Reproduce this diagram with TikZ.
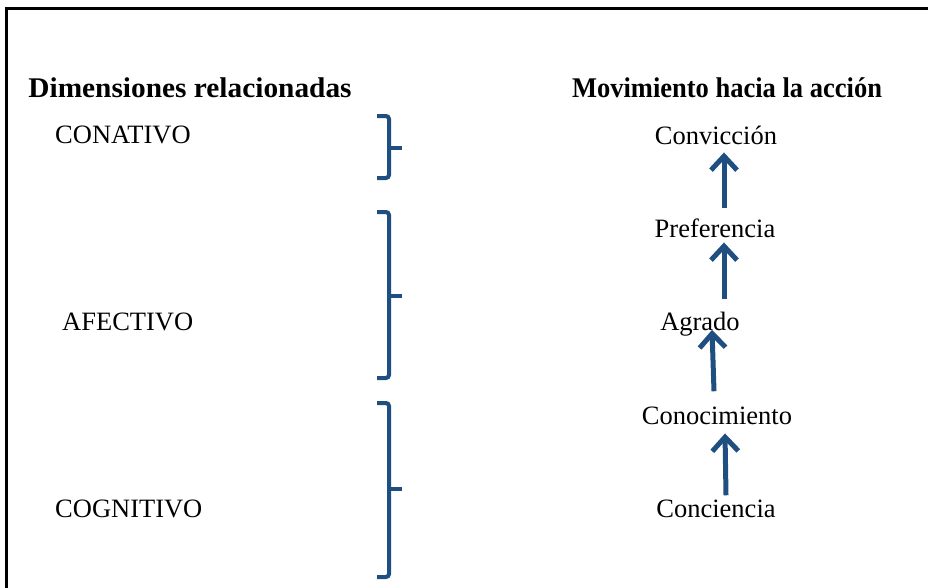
\documentclass[tikz,border=0pt]{standalone}
\usepackage{fontspec}
\setmainfont{Liberation Serif}
\usetikzlibrary{arrows.meta}
\definecolor{azul}{RGB}{31,78,128}
\tikzset{
  titulo/.style={font=\bfseries\fontsize{28.5}{32}\selectfont, inner sep=0pt, anchor=base},
  dimension/.style={font=\fontsize{26.5}{30}\selectfont, inner sep=0pt, anchor=base west},
  etapa/.style={font=\fontsize{26.5}{30}\selectfont, inner sep=0pt, anchor=base},
  flecha/.style={draw=azul, line width=5pt, -{Straight Barb[length=14pt,width=26pt,line width=5pt]}},
  llave/.style={draw=azul, line width=4pt, rounded corners=3pt}
}
\begin{document}
\begin{tikzpicture}[x=1pt,y=-1pt]
  \useasboundingbox (0,0) rectangle (928,587);
  % marco
  \draw[line width=3pt] (6.5,590) -- (6.5,8) -- (930,8);

  \node[titulo] (tdim) at (190,97) {\scalebox{1.03}[1]{Dimensiones relacionadas}};
  \node[titulo] (tmov) at (727,97) {\scalebox{0.93}[1]{Movimiento hacia la acción}};

  \node[dimension] (conativo) at (55,143) {CONATIVO};
  \node[dimension] (afectivo) at (62,330) {AFECTIVO};
  \node[dimension] (cognitivo) at (55,517) {COGNITIVO};

  \node[etapa] (conviccion) at (716,144) {Convicción};
  \node[etapa] (preferencia) at (715,237) {Preferencia};
  \node[etapa] (agrado) at (700,330) {Agrado};
  \node[etapa] (conocimiento) at (717,424) {Conocimiento};
  \node[etapa] (conciencia) at (716,517) {Conciencia};

  % llaves
  \draw[llave] (377,116) -- (389,116) -- (389,178) -- (377,178);
  \draw[llave] (389,148) -- (402,148);
  \draw[llave] (377,212) -- (389,212) -- (389,378) -- (377,378);
  \draw[llave] (389,296) -- (402,296);
  \draw[llave] (377,403) -- (389,403) -- (389,577) -- (377,577);
  \draw[llave] (389,489) -- (402,489);

  % flechas
  \draw[flecha] ([xshift=10pt,yshift=4pt]conciencia.north) -- ([xshift=8pt,yshift=-9pt]conocimiento.south);
  \draw[flecha] ([xshift=-3pt,yshift=15pt]conocimiento.north) -- ([xshift=12pt,yshift=6pt]agrado.south);
  \draw[flecha] ([xshift=24pt,yshift=12pt]agrado.north) -- ([xshift=9pt,yshift=-5pt]preferencia.south);
  \draw[flecha] ([xshift=9pt,yshift=10pt]preferencia.north) -- ([xshift=8pt,yshift=-8pt]conviccion.south);
\end{tikzpicture}
\end{document}
